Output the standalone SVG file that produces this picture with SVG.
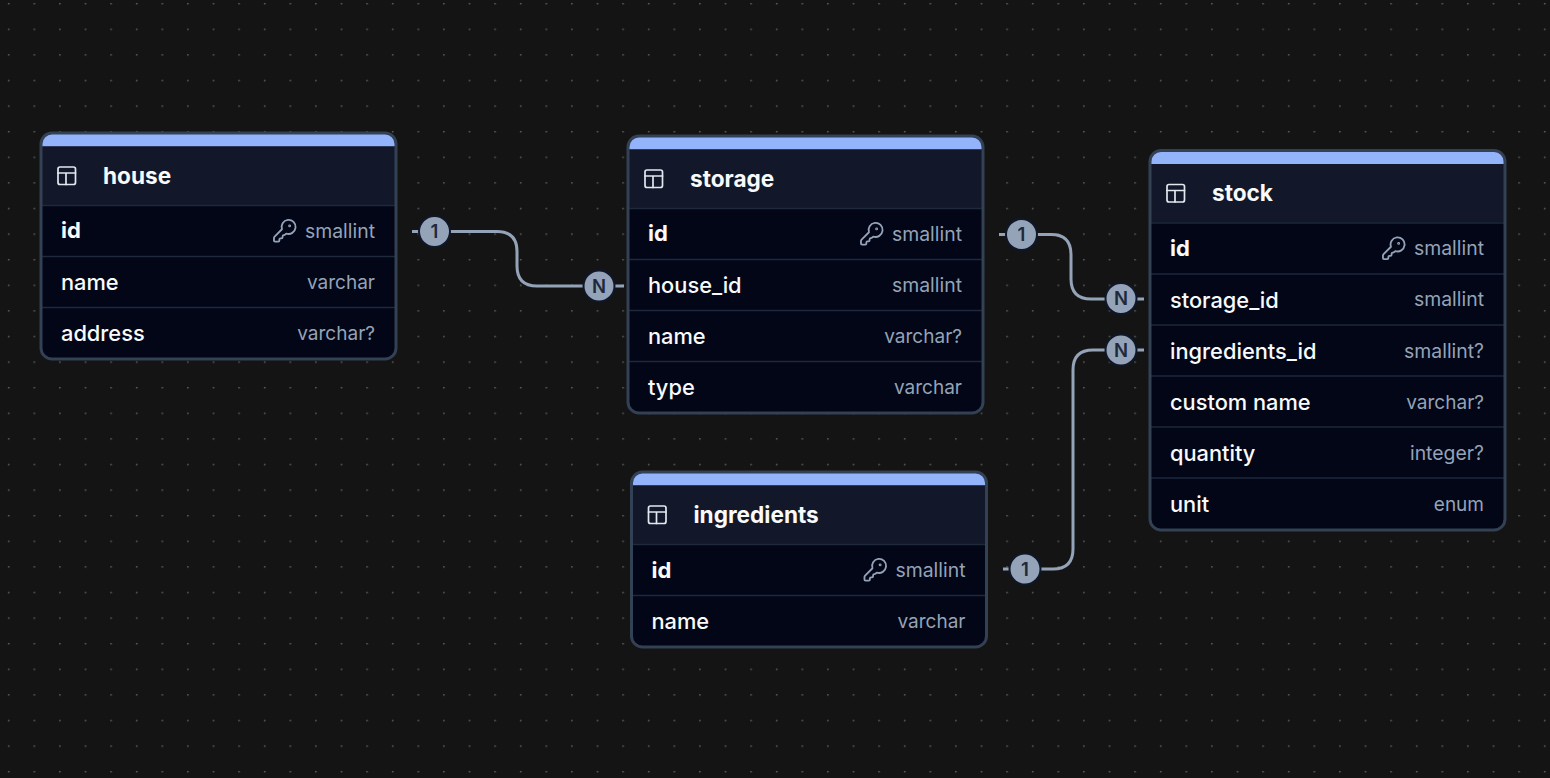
<svg xmlns="http://www.w3.org/2000/svg" width="1550" height="778" viewBox="0 0 1550 778">
<style>
text{font-family:Inter,"Noto Sans","Liberation Sans",sans-serif}
.body{fill:#020617}
.head{fill:#121829}
.bar{fill:#93b4fb}
.frame{fill:none;stroke:#334155;stroke-width:3}
.sep{stroke:#1e293b;stroke-width:1.5;fill:none}
.title{font-size:22.600px;font-weight:700;fill:#f8fafc}
.pk{font-size:22px;font-weight:700;fill:#f8fafc}
.col{font-size:21.800px;font-weight:500;fill:#f8fafc}
.type{font-size:19px;fill:#94a3b8;text-anchor:end}
.si{font-size:19.400px}
.ico{fill:none;stroke:#e2e8f0;stroke-width:1.7;stroke-linecap:round;stroke-linejoin:round}
.key{fill:none;stroke:#94a3b8;stroke-width:1.700;stroke-linecap:round;stroke-linejoin:round}
.link{fill:none;stroke:#94a3b8;stroke-width:3}
.badge{fill:#94a3b8;stroke:#0f172a;stroke-width:2}
.blabel{font-size:18.500px;font-weight:600;fill:#1e293b;text-anchor:middle}
</style>
<defs>
<pattern id="dots" width="25.6" height="25.6" patternUnits="userSpaceOnUse">
<rect x="8" y="3" width="1.4" height="1.4" fill="#6a6a6a"/>
</pattern>
<g id="tbl"><rect class="ico" x="58" y="167" width="17.500" height="17.500" rx="2"/><path class="ico" d="M58 173H75.500M66 173V184.500"/></g>
<g id="k"><g class="key" transform="translate(271.800,217.800) scale(1.08)"><path d="M2.586 17.414A2 2 0 0 0 2 18.828V21a1 1 0 0 0 1 1h3a1 1 0 0 0 1-1v-1a1 1 0 0 1 1-1h1a1 1 0 0 0 1-1v-1a1 1 0 0 1 1-1h.172a2 2 0 0 0 1.414-.586l.814-.814a6.500 6.500 0 1 0-4-4z"/><circle cx="16.500" cy="7.500" r="0.500"/></g></g>
</defs>
<rect width="1550" height="778" fill="#141414"/>
<rect width="1550" height="778" fill="url(#dots)"/>
<g id="connectors">
<path class="link" d="M412 231.500H497Q517 231.500 517 251.500V266Q517 286 537 286H624"/>
<path class="link" d="M999 234.500H1051Q1071 234.500 1071 254.500V279Q1071 299 1091 299H1144"/>
<path class="link" d="M1003 569H1053Q1073 569 1073 549V370Q1073 350 1093 350H1144"/>
<circle class="badge" cx="434.500" cy="231.500" r="15.500"/><text class="blabel" x="434.500" y="238">1</text>
<circle class="badge" cx="599" cy="286" r="15.500"/><text class="blabel" x="599" y="292.500">N</text>
<circle class="badge" cx="1021.500" cy="234.500" r="15.500"/><text class="blabel" x="1021.500" y="241">1</text>
<circle class="badge" cx="1121" cy="298.500" r="15.500"/><text class="blabel" x="1121" y="305">N</text>
<circle class="badge" cx="1121" cy="350" r="15.500"/><text class="blabel" x="1121" y="356.500">N</text>
<circle class="badge" cx="1025" cy="569" r="15.500"/><text class="blabel" x="1025" y="575.500">1</text>
</g>
<g id="house">
<rect class="body" x="41" y="133" width="355" height="226" rx="11"/>
<path class="bar" d="M41 146.500V144Q41 133 52 133H385Q396 133 396 144V146.500Z"/>
<rect class="head" x="41" y="146.500" width="355" height="58.500"/>
<path class="sep" d="M42 205.500H395M42 256.500H395M42 307.500H395"/>
<rect class="frame" x="41" y="133" width="355" height="226" rx="11"/>
<use href="#tbl"/>
<text class="title" x="103" y="183.500">house</text>
<text class="pk" x="61" y="238.300">id</text><use href="#k"/><text class="type si" x="375" y="237.500">smallint</text>
<text class="col" x="61" y="289.500">name</text><text class="type" x="375" y="288.500">varchar</text>
<text class="col" x="61" y="340.500">address</text><text class="type" x="375" y="339.500">varchar?</text>
</g>
<g id="storage" transform="translate(587,3)">
<rect class="body" x="41" y="133" width="355" height="277" rx="11"/>
<path class="bar" d="M41 146.500V144Q41 133 52 133H385Q396 133 396 144V146.500Z"/>
<rect class="head" x="41" y="146.500" width="355" height="58.500"/>
<path class="sep" d="M42 205.500H395M42 256.500H395M42 307.500H395M42 358.500H395"/>
<rect class="frame" x="41" y="133" width="355" height="277" rx="11"/>
<use href="#tbl"/>
<text class="title" x="103" y="183.500">storage</text>
<text class="pk" x="61" y="238.300">id</text><use href="#k"/><text class="type si" x="375" y="237.500">smallint</text>
<text class="col" x="61" y="289.500">house_id</text><text class="type si" x="375" y="288.500">smallint</text>
<text class="col" x="61" y="340.500">name</text><text class="type" x="375" y="339.500">varchar?</text>
<text class="col" x="61" y="392">type</text><text class="type" x="375" y="391">varchar</text>
</g>
<g id="ingredients" transform="translate(590.500,339)">
<rect class="body" x="41" y="133" width="355" height="175" rx="11"/>
<path class="bar" d="M41 146.500V144Q41 133 52 133H385Q396 133 396 144V146.500Z"/>
<rect class="head" x="41" y="146.500" width="355" height="58.500"/>
<path class="sep" d="M42 205.500H395M42 256.500H395"/>
<rect class="frame" x="41" y="133" width="355" height="175" rx="11"/>
<use href="#tbl"/>
<text class="title" x="103" y="183.500">ingredients</text>
<text class="pk" x="61" y="238.500">id</text><use href="#k"/><text class="type si" x="375" y="237.500">smallint</text>
<text class="col" x="61" y="289.500">name</text><text class="type" x="375" y="288.500">varchar</text>
</g>
<g id="stock" transform="translate(1109,17.500)">
<rect class="body" x="41" y="133" width="355" height="379.500" rx="11"/>
<path class="bar" d="M41 146.500V144Q41 133 52 133H385Q396 133 396 144V146.500Z"/>
<rect class="head" x="41" y="146.500" width="355" height="58.500"/>
<path class="sep" d="M42 205.500H395M42 256.500H395M42 307.500H395M42 358.500H395M42 409.500H395M42 460.500H395"/>
<rect class="frame" x="41" y="133" width="355" height="379.500" rx="11"/>
<use href="#tbl"/>
<text class="title" x="103" y="183.500">stock</text>
<text class="pk" x="61" y="238.300">id</text><use href="#k"/><text class="type si" x="375" y="237.500">smallint</text>
<text class="col" x="61" y="290">storage_id</text><text class="type si" x="375" y="288.500">smallint</text>
<text class="col" x="61" y="341.200">ingredients_id</text><text class="type si" x="375" y="340">smallint?</text>
<text class="col" x="61" y="392.200">custom name</text><text class="type" x="375" y="391">varchar?</text>
<text class="col" x="61" y="443.200">quantity</text><text class="type si" x="375" y="442">integer?</text>
<text class="col" x="61" y="494.200">unit</text><text class="type" x="375" y="493">enum</text>
</g>
</svg>
